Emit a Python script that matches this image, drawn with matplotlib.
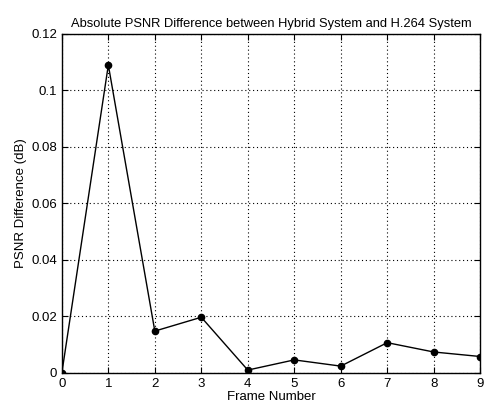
import numpy as np
import matplotlib
matplotlib.use("Agg")
import matplotlib.pyplot as plt
from matplotlib.ticker import FuncFormatter

# absolute PSNR difference per frame (dB)
frames = [0, 1, 2, 3, 4, 5, 6, 7, 8, 9]
psnr_diff = [0.0, 0.109, 0.0148, 0.0197, 0.001, 0.0046, 0.0024, 0.0107, 0.0074, 0.0058]
y_ticks = [0, 0.02, 0.04, 0.06, 0.08, 0.1, 0.12]

plt.rcParams['font.family'] = ['Liberation Sans', 'DejaVu Sans']

fig = plt.figure(figsize=(4.87, 4.04), dpi=100)
ax = fig.add_axes([0.127, 0.077, 0.859, 0.839])

ax.plot(frames, psnr_diff, color='black', lw=1.0, marker='o', ms=4.5,
        mfc='black', mec='black')

ax.set_xlim(0, 9)
ax.set_ylim(0, 0.12)
ax.set_xticks(frames)
ax.set_yticks(y_ticks)
ax.yaxis.set_major_formatter(FuncFormatter(lambda v, p: '%g' % round(v, 4)))

ax.grid(True, linestyle=(0, (1, 2.5)), color='black', lw=0.8)
ax.tick_params(direction='in', length=4, labelsize=9.5, top=True, right=True,
               labeltop=False, labelright=False)
for s in ax.spines.values():
    s.set_linewidth(1.0)

ax.set_title('Absolute PSNR Difference between Hybrid System and H.264 System',
             fontsize=9.3, pad=5)
ax.set_xlabel('Frame Number', fontsize=9.5, labelpad=1)
ax.set_ylabel('PSNR Difference (dB)', fontsize=9.5, labelpad=3)

fig.savefig('out.png', dpi=100)
